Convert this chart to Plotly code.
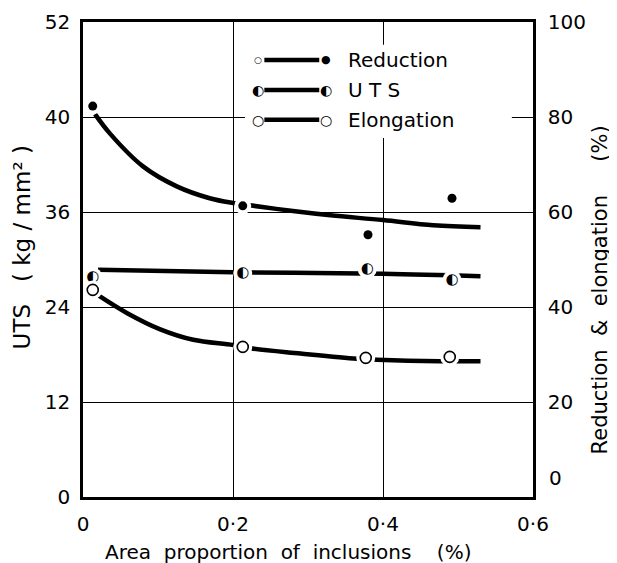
import plotly.graph_objects as go

# ---- data ----
# measured points
red_x = [0.013, 0.213, 0.380, 0.492]
red_y = [82.3, 61.3, 55.2, 62.9]          # %  (right axis)
uts_x = [0.013, 0.213, 0.379, 0.492]
uts_y = [27.8, 28.3, 28.8, 27.4]          # kg/mm2 (left axis)
elo_x = [0.013, 0.213, 0.377, 0.489]
elo_y = [43.6, 31.6, 29.3, 29.5]          # %  (right axis)

# drawn trend curves
red_cx = [0.016, 0.036, 0.08, 0.125, 0.169, 0.2, 0.223, 0.28, 0.33, 0.4, 0.467, 0.53]
red_cy = [80.6, 76.5, 69.6, 65.4, 62.9, 61.9, 61.4, 60.2, 59.3, 58.3, 57.2, 56.8]
uts_cx = [0.02, 0.2, 0.4, 0.53]
uts_cy = [28.7, 28.4, 28.2, 27.9]
elo_cx = [0.02, 0.059, 0.103, 0.147, 0.2, 0.223, 0.29, 0.365, 0.392, 0.476, 0.53]
elo_cy = [42.5, 38.7, 35.3, 33.1, 32.0, 31.3, 30.2, 29.1, 28.9, 28.6, 28.6]

x_ticks = [0, 0.2, 0.4, 0.6]
x_ticktext = ["0", "0·2", "0·4", "0·6"]
yl_ticks = [0, 12, 24, 36, 48, 60]
yl_ticktext = ["0", "12", "24", "36", "40", "52"]
yr_ticks = [20, 40, 60, 80, 100]
yr_ticktext = ["20", "40", "60", "80", "100"]
yr_zero_text = "0"

FONT = "DejaVu Sans"
INK = "black"

fig = go.Figure()

# curves
fig.add_trace(go.Scatter(x=red_cx, y=red_cy, yaxis="y2", mode="lines",
                         line=dict(color=INK, width=4.5, shape="spline", smoothing=1.0), showlegend=False))
fig.add_trace(go.Scatter(x=uts_cx, y=uts_cy, mode="lines",
                         line=dict(color=INK, width=4.5, shape="spline"), showlegend=False))
fig.add_trace(go.Scatter(x=elo_cx, y=elo_cy, yaxis="y2", mode="lines",
                         line=dict(color=INK, width=4.5, shape="spline", smoothing=1.0), showlegend=False))

# white halos that break the curves around the markers
fig.add_trace(go.Scatter(x=red_x[:2], y=red_y[:2], yaxis="y2", mode="markers",
                         marker=dict(color="white", size=17), showlegend=False))
fig.add_trace(go.Scatter(x=uts_x, y=uts_y, mode="markers",
                         marker=dict(color="white", size=19), showlegend=False))
fig.add_trace(go.Scatter(x=elo_x, y=elo_y, yaxis="y2", mode="markers",
                         marker=dict(color="white", size=19), showlegend=False))

# markers
fig.add_trace(go.Scatter(x=red_x, y=red_y, yaxis="y2", mode="markers",
                         marker=dict(color=INK, size=9), showlegend=False))
fig.add_trace(go.Scatter(x=uts_x, y=uts_y, mode="text", text=["◐"] * len(uts_x),
                         textfont=dict(family=FONT, size=15, color=INK),
                         textposition="middle center", showlegend=False))
fig.add_trace(go.Scatter(x=elo_x, y=elo_y, yaxis="y2", mode="markers",
                         marker=dict(symbol="circle-open", color=INK, size=11,
                                     line=dict(width=1.6, color=INK)), showlegend=False))

# ---- hand-drawn style legend (paper coordinates) ----
shapes = [
    dict(type="rect", xref="paper", yref="paper", x0=0.36, x1=0.953, y0=0.756, y1=0.952,
         fillcolor="white", line=dict(width=0), layer="above"),
]
annotations = []
rows = [("Reduction", 0.92, "○", "●", 9, 11), ("U T S", 0.857, "◐", "◐", 14, 14),
        ("Elongation", 0.794, "○", "○", 14, 14)]
for label, yp, lm, rm, ls, rs in rows:
    shapes.append(dict(type="line", xref="paper", yref="paper", x0=0.403, x1=0.525,
                       y0=yp, y1=yp, line=dict(color=INK, width=4.5), layer="above"))
    annotations.append(dict(xref="paper", yref="paper", x=0.388, y=yp, text=lm, showarrow=False,
                            font=dict(family=FONT, size=ls, color=INK), xanchor="center", yanchor="middle"))
    annotations.append(dict(xref="paper", yref="paper", x=0.541, y=yp, text=rm, showarrow=False,
                            font=dict(family=FONT, size=rs, color=INK), xanchor="center", yanchor="middle"))
    annotations.append(dict(xref="paper", yref="paper", x=0.585, y=yp, text=label, showarrow=False,
                            font=dict(family=FONT, size=20, color=INK), xanchor="left", yanchor="middle"))

# right-axis zero label sits a little higher than the others in the original
annotations.append(dict(xref="paper", yref="paper", x=1.03, y=0.04, text=yr_zero_text, showarrow=False,
                        font=dict(family=FONT, size=20, color=INK), xanchor="left", yanchor="middle"))

# axis titles
annotations.append(dict(xref="paper", yref="paper", x=-0.136, y=0.525, text="UTS   ( kg / mm² )",
                        textangle=-90, showarrow=False, xanchor="center", yanchor="middle",
                        font=dict(family=FONT, size=23, color=INK)))
annotations.append(dict(xref="paper", yref="paper", x=1.149, y=0.435, text="Reduction  &  elongation     (%)",
                        textangle=-90, showarrow=False, xanchor="center", yanchor="middle",
                        font=dict(family=FONT, size=21, color=INK)))
annotations.append(dict(xref="paper", yref="paper", x=0.456, y=-0.116, text="Area  proportion  of  inclusions    (%)",
                        showarrow=False, xanchor="center", yanchor="middle",
                        font=dict(family=FONT, size=20, color=INK)))

# the page body adds an 8px offset; margins compensate so the plot sits at 83..533 x 22..497
fig.update_layout(
    width=617, height=563,
    margin=dict(l=75, r=92, t=14, b=74, autoexpand=False),
    paper_bgcolor="white", plot_bgcolor="white",
    font=dict(family=FONT, color=INK, size=17),
    showlegend=False,
    shapes=shapes, annotations=annotations,
    xaxis=dict(range=[0, 0.6], tickvals=x_ticks, ticktext=x_ticktext,
               showgrid=True, gridcolor=INK, gridwidth=1.2,
               showline=True, linecolor=INK, linewidth=2.5, mirror=True,
               ticks="", zeroline=False, tickfont=dict(size=20), ticklabelstandoff=7),
    yaxis=dict(range=[0, 60], tickvals=yl_ticks, ticktext=yl_ticktext,
               showgrid=True, gridcolor=INK, gridwidth=1.2,
               showline=True, linecolor=INK, linewidth=2.5,
               ticks="", zeroline=False, tickfont=dict(size=20), ticklabelstandoff=6),
    yaxis2=dict(range=[0, 100], tickvals=yr_ticks, ticktext=yr_ticktext,
                overlaying="y", side="right", showgrid=False,
                showline=True, linecolor=INK, linewidth=2.5,
                ticks="", zeroline=False, tickfont=dict(size=20), ticklabelstandoff=8),
)

fig.write_html("out.html")
